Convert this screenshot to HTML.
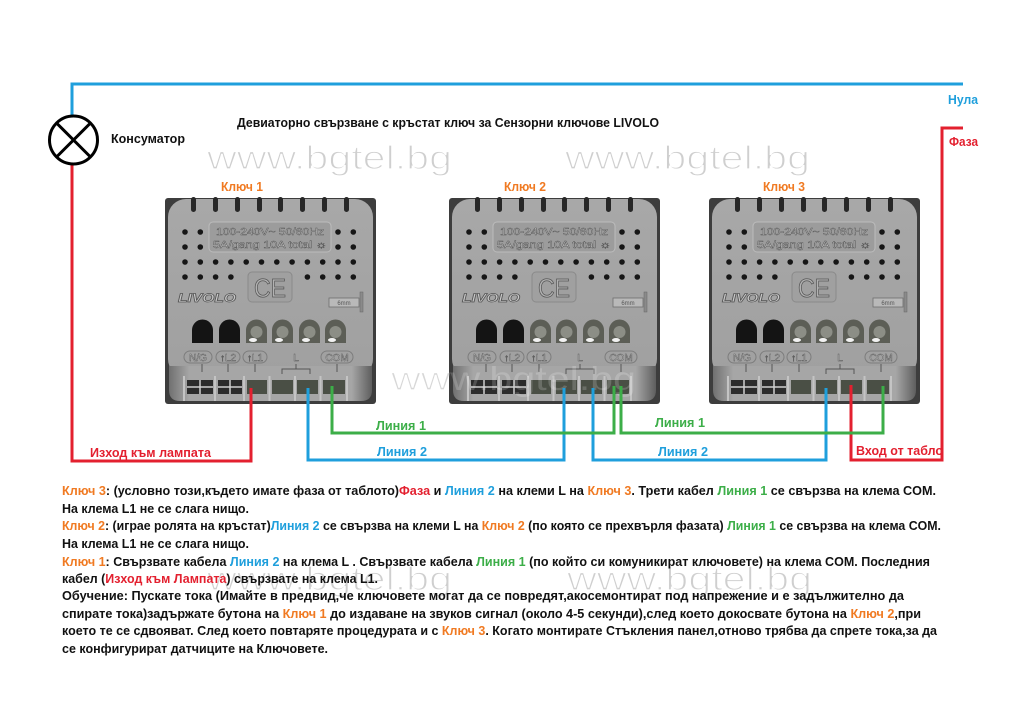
<!DOCTYPE html>
<html><head><meta charset="utf-8"><style>
html,body{margin:0;padding:0;background:#fff;}
svg{display:block;}
text{font-family:"Liberation Sans","Noto Sans CJK JP",sans-serif;}
.b{font-weight:bold;}
.wm{font-size:33px;fill:#cfcfcf;stroke:#fff;stroke-width:1.3;}
.em{fill:#d6d6d6;stroke:#555;stroke-width:0.45;font-size:10px;}
.t{font-size:12.5px;font-weight:bold;fill:#111;}
.o{fill:#f07a22;}.bl{fill:#1f9fdc;}.g{fill:#3cae48;}.r{fill:#e3202f;}
</style></head><body>
<svg width="1024" height="721" viewBox="0 0 1024 721" xmlns="http://www.w3.org/2000/svg">
<rect width="1024" height="721" fill="#fff"/>
<defs>
<linearGradient id="lb" x1="0" y1="0" x2="0" y2="1"><stop offset="0" stop-color="#a8a8a8"/><stop offset="1" stop-color="#a0a0a0"/></linearGradient>
<linearGradient id="side" x1="0" y1="0" x2="1" y2="0"><stop offset="0" stop-color="#707070"/><stop offset="0.1" stop-color="#a6a6a6"/><stop offset="0.9" stop-color="#a6a6a6"/><stop offset="1" stop-color="#5e5e5e"/></linearGradient>
</defs>

<!-- watermarks (behind) -->
<text class="wm" x="207" y="169" textLength="245" lengthAdjust="spacingAndGlyphs">www.bgtel.bg</text>
<text class="wm" x="565" y="169" textLength="245" lengthAdjust="spacingAndGlyphs">www.bgtel.bg</text>
<text class="wm" x="391" y="390" textLength="245" lengthAdjust="spacingAndGlyphs">www.bgtel.bg</text>
<text class="wm" x="207" y="590" textLength="245" lengthAdjust="spacingAndGlyphs">www.bgtel.bg</text>
<text class="wm" x="567" y="590" textLength="245" lengthAdjust="spacingAndGlyphs">www.bgtel.bg</text>

<!-- title & labels -->
<text class="b" x="237" y="127" font-size="13" fill="#111" textLength="422" lengthAdjust="spacingAndGlyphs">Девиаторно свързване с кръстат ключ за Сензорни ключове LIVOLO</text>
<text class="b" x="111" y="143" font-size="13" fill="#111" textLength="74" lengthAdjust="spacingAndGlyphs">Консуматор</text>
<text class="b o" x="221" y="191" font-size="13" textLength="42" lengthAdjust="spacingAndGlyphs">Ключ 1</text>
<text class="b o" x="504" y="191" font-size="13" textLength="42" lengthAdjust="spacingAndGlyphs">Ключ 2</text>
<text class="b o" x="763" y="191" font-size="13" textLength="42" lengthAdjust="spacingAndGlyphs">Ключ 3</text>
<text class="b bl" x="948" y="104" font-size="13" textLength="30" lengthAdjust="spacingAndGlyphs">Нула</text>
<text class="b r" x="949" y="146" font-size="13" textLength="29" lengthAdjust="spacingAndGlyphs">Фаза</text>

<!-- SWITCH 1 -->
<g transform="translate(165,198)">
<rect x="0" y="0" width="211" height="206" rx="3" fill="#3d3d3d"/>
<rect x="3" y="1" width="205" height="178" rx="18" fill="url(#lb)"/>
<path d="M4,168 H207 V192 Q207,203 196,203 H15 Q4,203 4,192 Z" fill="url(#side)"/>
<g fill="#272727"><rect x="26" y="-1" width="5" height="15" rx="2.5"/><rect x="48" y="-1" width="5" height="15" rx="2.5"/><rect x="70" y="-1" width="5" height="15" rx="2.5"/><rect x="92" y="-1" width="5" height="15" rx="2.5"/><rect x="113" y="-1" width="5" height="15" rx="2.5"/><rect x="135" y="-1" width="5" height="15" rx="2.5"/><rect x="157" y="-1" width="5" height="15" rx="2.5"/><rect x="179" y="-1" width="5" height="15" rx="2.5"/></g>
<rect x="44" y="24" width="122" height="30" rx="4" fill="#9c9c9c" stroke="#bcbcbc"/>
<text class="em" x="105" y="37" text-anchor="middle" textLength="108" lengthAdjust="spacingAndGlyphs">100-240V~  50/60Hz</text>
<text class="em" x="105" y="50" text-anchor="middle" textLength="114" lengthAdjust="spacingAndGlyphs">5A/gang 10A total ☼</text>
<g fill="#161616">
<circle cx="20" cy="34" r="2.8"/><circle cx="35.3" cy="34" r="2.8"/><circle cx="173" cy="34" r="2.8"/><circle cx="188.3" cy="34" r="2.8"/>
<circle cx="20" cy="49" r="2.8"/><circle cx="35.3" cy="49" r="2.8"/><circle cx="173" cy="49" r="2.8"/><circle cx="188.3" cy="49" r="2.8"/>
<circle cx="20" cy="64" r="2.8"/><circle cx="35.3" cy="64" r="2.8"/><circle cx="50.6" cy="64" r="2.8"/><circle cx="65.9" cy="64" r="2.8"/><circle cx="81.2" cy="64" r="2.8"/><circle cx="96.5" cy="64" r="2.8"/><circle cx="111.8" cy="64" r="2.8"/><circle cx="127.1" cy="64" r="2.8"/><circle cx="142.4" cy="64" r="2.8"/><circle cx="157.7" cy="64" r="2.8"/><circle cx="173" cy="64" r="2.8"/><circle cx="188.3" cy="64" r="2.8"/>
<circle cx="20" cy="79" r="2.8"/><circle cx="35.3" cy="79" r="2.8"/><circle cx="50.6" cy="79" r="2.8"/><circle cx="65.9" cy="79" r="2.8"/><circle cx="142.4" cy="79" r="2.8"/><circle cx="157.7" cy="79" r="2.8"/><circle cx="173" cy="79" r="2.8"/><circle cx="188.3" cy="79" r="2.8"/>
</g>
<rect x="83" y="74" width="44" height="30" rx="4" fill="#a0a0a0" stroke="#8a8a8a"/>
<text x="105" y="99" text-anchor="middle" font-size="26" fill="#b2b2b2" stroke="#555" stroke-width="0.8" textLength="32" lengthAdjust="spacingAndGlyphs">CE</text>
<text x="13" y="104" font-size="12" font-weight="bold" font-style="italic" fill="#c8c8c8" stroke="#555" stroke-width="0.7" textLength="58" lengthAdjust="spacingAndGlyphs">LIVOLO</text>
<rect x="164" y="100" width="30" height="9" fill="#b9b9b9" stroke="#6f6f6f" stroke-width="0.8"/>
<text x="179" y="107" text-anchor="middle" font-size="6" fill="#555">6mm</text>
<rect x="195" y="94" width="3" height="20" fill="#8a8a8a" stroke="#666" stroke-width="0.5"/>
<path d="M27,145V132A10.5,10.5 0 0 1 48,132V145Z" fill="#141414"/>
<path d="M54,145V132A10.5,10.5 0 0 1 75,132V145Z" fill="#141414"/>
<g fill="#5c5e56"><path d="M81,145V132A10.5,10.5 0 0 1 102,132V145Z"/><path d="M107,145V132A10.5,10.5 0 0 1 128,132V145Z"/><path d="M134,145V132A10.5,10.5 0 0 1 155,132V145Z"/><path d="M160,145V132A10.5,10.5 0 0 1 181,132V145Z"/></g>
<g fill="#8c8e86"><circle cx="91.5" cy="134" r="6"/><circle cx="117.5" cy="134" r="6"/><circle cx="144.5" cy="134" r="6"/><circle cx="170.5" cy="134" r="6"/></g>
<g fill="#f2f2f2"><ellipse cx="88" cy="142" rx="4" ry="2"/><ellipse cx="114" cy="142" rx="4" ry="2"/><ellipse cx="141" cy="142" rx="4" ry="2"/><ellipse cx="167" cy="142" rx="4" ry="2"/></g>
<g fill="none" stroke="#7d7d7d" stroke-width="1"><rect x="19" y="153" width="28" height="12" rx="6"/><rect x="51" y="153" width="24" height="12" rx="6"/><rect x="78" y="153" width="24" height="12" rx="6"/><rect x="156" y="153" width="32" height="12" rx="6"/></g>
<text class="em" x="33" y="163" text-anchor="middle">N/G</text>
<text class="em" x="63" y="163" text-anchor="middle">↑L2</text>
<text class="em" x="90" y="163" text-anchor="middle">↑L1</text>
<text class="em" x="131" y="163" text-anchor="middle">L</text>
<text class="em" x="172" y="163" text-anchor="middle">COM</text>
<path d="M37,166V174M63,166V174M90,166V174M172,166V174M117,176V171H145V176M131,166V171" stroke="#555" stroke-width="1" fill="none"/>
<g stroke="#c4c4c4" stroke-width="2"><path d="M50,178V203M79,178V203M104.5,178V203M130,178V203M155.5,178V203M182,178V203M19,178V203"/></g>
<rect x="22" y="182" width="26" height="14" fill="#2c2c2c"/><rect x="53" y="182" width="24" height="14" fill="#2c2c2c"/>
<path d="M22,189H48M35,182V196M53,189H77M65,182V196" stroke="#cfcfcf" stroke-width="1.5"/>
<g fill="#4a4f45"><rect x="82" y="182" width="20" height="14"/><rect x="107" y="182" width="21" height="14"/><rect x="132" y="182" width="21" height="14"/><rect x="158" y="182" width="22" height="14"/></g>
</g>

<!-- SWITCH 2 -->
<g transform="translate(449,198)">
<rect x="0" y="0" width="211" height="206" rx="3" fill="#3d3d3d"/>
<rect x="3" y="1" width="205" height="178" rx="18" fill="url(#lb)"/>
<path d="M4,168 H207 V192 Q207,203 196,203 H15 Q4,203 4,192 Z" fill="url(#side)"/>
<g fill="#272727"><rect x="26" y="-1" width="5" height="15" rx="2.5"/><rect x="48" y="-1" width="5" height="15" rx="2.5"/><rect x="70" y="-1" width="5" height="15" rx="2.5"/><rect x="92" y="-1" width="5" height="15" rx="2.5"/><rect x="113" y="-1" width="5" height="15" rx="2.5"/><rect x="135" y="-1" width="5" height="15" rx="2.5"/><rect x="157" y="-1" width="5" height="15" rx="2.5"/><rect x="179" y="-1" width="5" height="15" rx="2.5"/></g>
<rect x="44" y="24" width="122" height="30" rx="4" fill="#9c9c9c" stroke="#bcbcbc"/>
<text class="em" x="105" y="37" text-anchor="middle" textLength="108" lengthAdjust="spacingAndGlyphs">100-240V~  50/60Hz</text>
<text class="em" x="105" y="50" text-anchor="middle" textLength="114" lengthAdjust="spacingAndGlyphs">5A/gang 10A total ☼</text>
<g fill="#161616">
<circle cx="20" cy="34" r="2.8"/><circle cx="35.3" cy="34" r="2.8"/><circle cx="173" cy="34" r="2.8"/><circle cx="188.3" cy="34" r="2.8"/>
<circle cx="20" cy="49" r="2.8"/><circle cx="35.3" cy="49" r="2.8"/><circle cx="173" cy="49" r="2.8"/><circle cx="188.3" cy="49" r="2.8"/>
<circle cx="20" cy="64" r="2.8"/><circle cx="35.3" cy="64" r="2.8"/><circle cx="50.6" cy="64" r="2.8"/><circle cx="65.9" cy="64" r="2.8"/><circle cx="81.2" cy="64" r="2.8"/><circle cx="96.5" cy="64" r="2.8"/><circle cx="111.8" cy="64" r="2.8"/><circle cx="127.1" cy="64" r="2.8"/><circle cx="142.4" cy="64" r="2.8"/><circle cx="157.7" cy="64" r="2.8"/><circle cx="173" cy="64" r="2.8"/><circle cx="188.3" cy="64" r="2.8"/>
<circle cx="20" cy="79" r="2.8"/><circle cx="35.3" cy="79" r="2.8"/><circle cx="50.6" cy="79" r="2.8"/><circle cx="65.9" cy="79" r="2.8"/><circle cx="142.4" cy="79" r="2.8"/><circle cx="157.7" cy="79" r="2.8"/><circle cx="173" cy="79" r="2.8"/><circle cx="188.3" cy="79" r="2.8"/>
</g>
<rect x="83" y="74" width="44" height="30" rx="4" fill="#a0a0a0" stroke="#8a8a8a"/>
<text x="105" y="99" text-anchor="middle" font-size="26" fill="#b2b2b2" stroke="#555" stroke-width="0.8" textLength="32" lengthAdjust="spacingAndGlyphs">CE</text>
<text x="13" y="104" font-size="12" font-weight="bold" font-style="italic" fill="#c8c8c8" stroke="#555" stroke-width="0.7" textLength="58" lengthAdjust="spacingAndGlyphs">LIVOLO</text>
<rect x="164" y="100" width="30" height="9" fill="#b9b9b9" stroke="#6f6f6f" stroke-width="0.8"/>
<text x="179" y="107" text-anchor="middle" font-size="6" fill="#555">6mm</text>
<rect x="195" y="94" width="3" height="20" fill="#8a8a8a" stroke="#666" stroke-width="0.5"/>
<path d="M27,145V132A10.5,10.5 0 0 1 48,132V145Z" fill="#141414"/>
<path d="M54,145V132A10.5,10.5 0 0 1 75,132V145Z" fill="#141414"/>
<g fill="#5c5e56"><path d="M81,145V132A10.5,10.5 0 0 1 102,132V145Z"/><path d="M107,145V132A10.5,10.5 0 0 1 128,132V145Z"/><path d="M134,145V132A10.5,10.5 0 0 1 155,132V145Z"/><path d="M160,145V132A10.5,10.5 0 0 1 181,132V145Z"/></g>
<g fill="#8c8e86"><circle cx="91.5" cy="134" r="6"/><circle cx="117.5" cy="134" r="6"/><circle cx="144.5" cy="134" r="6"/><circle cx="170.5" cy="134" r="6"/></g>
<g fill="#f2f2f2"><ellipse cx="88" cy="142" rx="4" ry="2"/><ellipse cx="114" cy="142" rx="4" ry="2"/><ellipse cx="141" cy="142" rx="4" ry="2"/><ellipse cx="167" cy="142" rx="4" ry="2"/></g>
<g fill="none" stroke="#7d7d7d" stroke-width="1"><rect x="19" y="153" width="28" height="12" rx="6"/><rect x="51" y="153" width="24" height="12" rx="6"/><rect x="78" y="153" width="24" height="12" rx="6"/><rect x="156" y="153" width="32" height="12" rx="6"/></g>
<text class="em" x="33" y="163" text-anchor="middle">N/G</text>
<text class="em" x="63" y="163" text-anchor="middle">↑L2</text>
<text class="em" x="90" y="163" text-anchor="middle">↑L1</text>
<text class="em" x="131" y="163" text-anchor="middle">L</text>
<text class="em" x="172" y="163" text-anchor="middle">COM</text>
<path d="M37,166V174M63,166V174M90,166V174M172,166V174M117,176V171H145V176M131,166V171" stroke="#555" stroke-width="1" fill="none"/>
<g stroke="#c4c4c4" stroke-width="2"><path d="M50,178V203M79,178V203M104.5,178V203M130,178V203M155.5,178V203M182,178V203M19,178V203"/></g>
<rect x="22" y="182" width="26" height="14" fill="#2c2c2c"/><rect x="53" y="182" width="24" height="14" fill="#2c2c2c"/>
<path d="M22,189H48M35,182V196M53,189H77M65,182V196" stroke="#cfcfcf" stroke-width="1.5"/>
<g fill="#4a4f45"><rect x="82" y="182" width="20" height="14"/><rect x="107" y="182" width="21" height="14"/><rect x="132" y="182" width="21" height="14"/><rect x="158" y="182" width="22" height="14"/></g>
</g>

<!-- SWITCH 3 -->
<g transform="translate(709,198)">
<rect x="0" y="0" width="211" height="206" rx="3" fill="#3d3d3d"/>
<rect x="3" y="1" width="205" height="178" rx="18" fill="url(#lb)"/>
<path d="M4,168 H207 V192 Q207,203 196,203 H15 Q4,203 4,192 Z" fill="url(#side)"/>
<g fill="#272727"><rect x="26" y="-1" width="5" height="15" rx="2.5"/><rect x="48" y="-1" width="5" height="15" rx="2.5"/><rect x="70" y="-1" width="5" height="15" rx="2.5"/><rect x="92" y="-1" width="5" height="15" rx="2.5"/><rect x="113" y="-1" width="5" height="15" rx="2.5"/><rect x="135" y="-1" width="5" height="15" rx="2.5"/><rect x="157" y="-1" width="5" height="15" rx="2.5"/><rect x="179" y="-1" width="5" height="15" rx="2.5"/></g>
<rect x="44" y="24" width="122" height="30" rx="4" fill="#9c9c9c" stroke="#bcbcbc"/>
<text class="em" x="105" y="37" text-anchor="middle" textLength="108" lengthAdjust="spacingAndGlyphs">100-240V~  50/60Hz</text>
<text class="em" x="105" y="50" text-anchor="middle" textLength="114" lengthAdjust="spacingAndGlyphs">5A/gang 10A total ☼</text>
<g fill="#161616">
<circle cx="20" cy="34" r="2.8"/><circle cx="35.3" cy="34" r="2.8"/><circle cx="173" cy="34" r="2.8"/><circle cx="188.3" cy="34" r="2.8"/>
<circle cx="20" cy="49" r="2.8"/><circle cx="35.3" cy="49" r="2.8"/><circle cx="173" cy="49" r="2.8"/><circle cx="188.3" cy="49" r="2.8"/>
<circle cx="20" cy="64" r="2.8"/><circle cx="35.3" cy="64" r="2.8"/><circle cx="50.6" cy="64" r="2.8"/><circle cx="65.9" cy="64" r="2.8"/><circle cx="81.2" cy="64" r="2.8"/><circle cx="96.5" cy="64" r="2.8"/><circle cx="111.8" cy="64" r="2.8"/><circle cx="127.1" cy="64" r="2.8"/><circle cx="142.4" cy="64" r="2.8"/><circle cx="157.7" cy="64" r="2.8"/><circle cx="173" cy="64" r="2.8"/><circle cx="188.3" cy="64" r="2.8"/>
<circle cx="20" cy="79" r="2.8"/><circle cx="35.3" cy="79" r="2.8"/><circle cx="50.6" cy="79" r="2.8"/><circle cx="65.9" cy="79" r="2.8"/><circle cx="142.4" cy="79" r="2.8"/><circle cx="157.7" cy="79" r="2.8"/><circle cx="173" cy="79" r="2.8"/><circle cx="188.3" cy="79" r="2.8"/>
</g>
<rect x="83" y="74" width="44" height="30" rx="4" fill="#a0a0a0" stroke="#8a8a8a"/>
<text x="105" y="99" text-anchor="middle" font-size="26" fill="#b2b2b2" stroke="#555" stroke-width="0.8" textLength="32" lengthAdjust="spacingAndGlyphs">CE</text>
<text x="13" y="104" font-size="12" font-weight="bold" font-style="italic" fill="#c8c8c8" stroke="#555" stroke-width="0.7" textLength="58" lengthAdjust="spacingAndGlyphs">LIVOLO</text>
<rect x="164" y="100" width="30" height="9" fill="#b9b9b9" stroke="#6f6f6f" stroke-width="0.8"/>
<text x="179" y="107" text-anchor="middle" font-size="6" fill="#555">6mm</text>
<rect x="195" y="94" width="3" height="20" fill="#8a8a8a" stroke="#666" stroke-width="0.5"/>
<path d="M27,145V132A10.5,10.5 0 0 1 48,132V145Z" fill="#141414"/>
<path d="M54,145V132A10.5,10.5 0 0 1 75,132V145Z" fill="#141414"/>
<g fill="#5c5e56"><path d="M81,145V132A10.5,10.5 0 0 1 102,132V145Z"/><path d="M107,145V132A10.5,10.5 0 0 1 128,132V145Z"/><path d="M134,145V132A10.5,10.5 0 0 1 155,132V145Z"/><path d="M160,145V132A10.5,10.5 0 0 1 181,132V145Z"/></g>
<g fill="#8c8e86"><circle cx="91.5" cy="134" r="6"/><circle cx="117.5" cy="134" r="6"/><circle cx="144.5" cy="134" r="6"/><circle cx="170.5" cy="134" r="6"/></g>
<g fill="#f2f2f2"><ellipse cx="88" cy="142" rx="4" ry="2"/><ellipse cx="114" cy="142" rx="4" ry="2"/><ellipse cx="141" cy="142" rx="4" ry="2"/><ellipse cx="167" cy="142" rx="4" ry="2"/></g>
<g fill="none" stroke="#7d7d7d" stroke-width="1"><rect x="19" y="153" width="28" height="12" rx="6"/><rect x="51" y="153" width="24" height="12" rx="6"/><rect x="78" y="153" width="24" height="12" rx="6"/><rect x="156" y="153" width="32" height="12" rx="6"/></g>
<text class="em" x="33" y="163" text-anchor="middle">N/G</text>
<text class="em" x="63" y="163" text-anchor="middle">↑L2</text>
<text class="em" x="90" y="163" text-anchor="middle">↑L1</text>
<text class="em" x="131" y="163" text-anchor="middle">L</text>
<text class="em" x="172" y="163" text-anchor="middle">COM</text>
<path d="M37,166V174M63,166V174M90,166V174M172,166V174M117,176V171H145V176M131,166V171" stroke="#555" stroke-width="1" fill="none"/>
<g stroke="#c4c4c4" stroke-width="2"><path d="M50,178V203M79,178V203M104.5,178V203M130,178V203M155.5,178V203M182,178V203M19,178V203"/></g>
<rect x="22" y="182" width="26" height="14" fill="#2c2c2c"/><rect x="53" y="182" width="24" height="14" fill="#2c2c2c"/>
<path d="M22,189H48M35,182V196M53,189H77M65,182V196" stroke="#cfcfcf" stroke-width="1.5"/>
<g fill="#4a4f45"><rect x="82" y="182" width="20" height="14"/><rect x="107" y="182" width="21" height="14"/><rect x="132" y="182" width="21" height="14"/><rect x="158" y="182" width="22" height="14"/></g>
</g>

<!-- watermark overlay on switches -->
<text x="391" y="390" font-size="33" fill="#ffffff" fill-opacity="0.18" textLength="245" lengthAdjust="spacingAndGlyphs">www.bgtel.bg</text>

<!-- wires -->
<g fill="none" stroke-width="3" stroke-linejoin="miter">
<path d="M72,116V84H963" stroke="#1f9fdc"/>
<path d="M72,165V461H251V388" stroke="#e3202f"/>
<path d="M963,128H942V460H851V385" stroke="#e3202f"/>
<path d="M308,388V460H564V388" stroke="#1f9fdc"/>
<path d="M593,388V460H826V388" stroke="#1f9fdc"/>
<path d="M332,386V433H614V386" stroke="#3cae48"/>
<path d="M621,386V433H883V386" stroke="#3cae48"/>
</g>

<!-- lamp -->
<circle cx="73.5" cy="140" r="24" fill="#fff" stroke="#000" stroke-width="3"/>
<path d="M56.5,123L90.5,157M90.5,123L56.5,157" stroke="#000" stroke-width="3"/>

<!-- wire labels -->
<text class="b g" x="376" y="430" font-size="12.5" textLength="50" lengthAdjust="spacingAndGlyphs">Линия 1</text>
<text class="b bl" x="377" y="456" font-size="12.5" textLength="50" lengthAdjust="spacingAndGlyphs">Линия 2</text>
<text class="b r" x="90" y="457" font-size="12.5" textLength="121" lengthAdjust="spacingAndGlyphs">Изход към лампата</text>
<text class="b g" x="655" y="427" font-size="12.5" textLength="50" lengthAdjust="spacingAndGlyphs">Линия 1</text>
<text class="b bl" x="658" y="456" font-size="12.5" textLength="50" lengthAdjust="spacingAndGlyphs">Линия 2</text>
<text class="b r" x="856" y="455" font-size="12.5" textLength="87" lengthAdjust="spacingAndGlyphs">Вход от табло</text>

<!-- description -->
<text class="t" x="62" y="495" textLength="874" lengthAdjust="spacingAndGlyphs"><tspan class="o">Ключ 3</tspan>: (условно този,където имате фаза от таблото)<tspan class="r">Фаза</tspan> и <tspan class="bl">Линия 2</tspan> на клеми L на <tspan class="o">Ключ 3</tspan>. Трети кабел <tspan class="g">Линия 1</tspan> се свързва на клема COM.</text>
<text class="t" x="62" y="513" textLength="187" lengthAdjust="spacingAndGlyphs">На клема L1 не се слага нищо.</text>
<text class="t" x="62" y="530" textLength="879" lengthAdjust="spacingAndGlyphs"><tspan class="o">Ключ 2</tspan>: (играе ролята на кръстат)<tspan class="bl">Линия 2</tspan> се свързва на клеми L на <tspan class="o">Ключ 2</tspan> (по която се прехвърля фазата) <tspan class="g">Линия 1</tspan> се свързва на клема COM.</text>
<text class="t" x="62" y="548" textLength="187" lengthAdjust="spacingAndGlyphs">На клема L1 не се слага нищо.</text>
<text class="t" x="62" y="566" textLength="868" lengthAdjust="spacingAndGlyphs"><tspan class="o">Ключ 1</tspan>: Свързвате кабела <tspan class="bl">Линия 2</tspan> на клема L . Свързвате кабела <tspan class="g">Линия 1</tspan> (по който си комуникират ключовете) на клема COM. Последния</text>
<text class="t" x="62" y="583" textLength="316" lengthAdjust="spacingAndGlyphs">кабел (<tspan class="r">Изход към Лампата</tspan>) свързвате на клема L1.</text>
<text class="t" x="62" y="600" textLength="842" lengthAdjust="spacingAndGlyphs">Обучение: Пускате тока (Имайте в предвид,че ключовете могат да се повредят,акосемонтират под напрежение и е задължително да</text>
<text class="t" x="62" y="618" textLength="859" lengthAdjust="spacingAndGlyphs">спирате тока)задържате бутона на <tspan class="o">Ключ 1</tspan> до издаване на звуков сигнал (около 4-5 секунди),след което докосвате бутона на <tspan class="o">Ключ 2</tspan>,при</text>
<text class="t" x="62" y="635" textLength="875" lengthAdjust="spacingAndGlyphs">което те се сдвояват. След което повтаряте процедурата и с <tspan class="o">Ключ 3</tspan>. Когато монтирате Стъкления панел,отново трябва да спрете тока,за да</text>
<text class="t" x="62" y="653" textLength="266" lengthAdjust="spacingAndGlyphs">се конфигурират датчиците на Ключовете.</text>
</svg>
</body></html>
